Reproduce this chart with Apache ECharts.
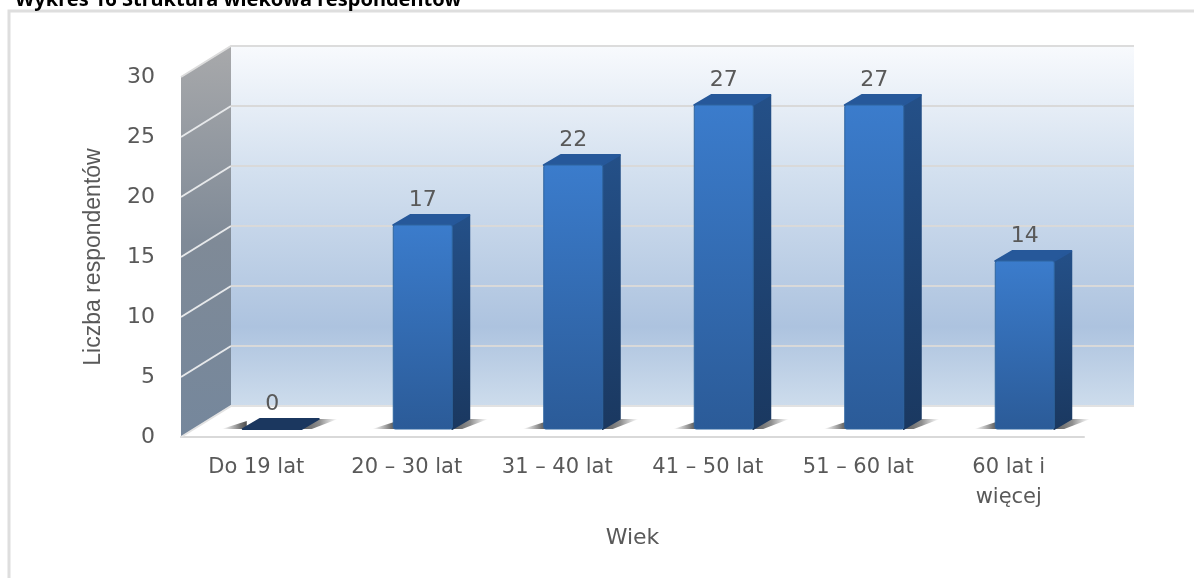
<!DOCTYPE html>
<html>
<head>
<meta charset="utf-8">
<title>Struktura wiekowa respondentów</title>
<script src="https://cdn.jsdelivr.net/npm/echarts@6/dist/echarts.min.js"></script>
<style>
  html, body { margin: 0; padding: 0; background: #fff; }
  #chart { width: 1194px; height: 578px; }
</style>
</head>
<body>
<div id="chart"></div>
<script>
const categories = ['Do 19 lat', '20 – 30 lat', '31 – 40 lat', '41 – 50 lat', '51 – 60 lat', '60 lat i\nwięcej'];
const respondents = [0, 17, 22, 27, 27, 14];
const yTicks = [5, 10, 15, 20, 25];
const yMax = 30;

// depth of the fake 3D box
const wallDx = 50, wallDy = -31;
const barDx = 16, barDy = -8;
const sideDx = 17, sideDy = -10;
const barWidth = 59;
const textColor = '#595959';

function vert(stops) {
  return new echarts.graphic.LinearGradient(0, 0, 0, 1, stops);
}
function horiz(stops) {
  return new echarts.graphic.LinearGradient(0, 0, 1, 0, stops);
}
function poly(points, fill, rounded) {
  var style = { fill: fill };
  if (rounded) {
    style.stroke = fill;
    style.lineWidth = 2;
    style.lineJoin = 'round';
  }
  return { type: 'polygon', shape: { points: points }, style: style };
}

var chart = echarts.init(document.getElementById('chart'));

function renderWalls(params, api) {
  var step = api.size([1, 0])[0];
  var bl = api.coord([0, 0]);
  var top = api.coord([0, yMax]);
  var x0 = bl[0] - step / 2;
  var x1 = x0 + step * categories.length;
  var y0 = bl[1], y1 = top[1];
  return {
    type: 'group',
    children: [
      poly([[x0, y1], [x0 + wallDx, y1 + wallDy], [x0 + wallDx, y0 + wallDy], [x0, y0]],
        vert([{ offset: 0, color: '#a8a9ab' }, { offset: 0.5, color: '#7f8a97' }, { offset: 1, color: '#75879c' }])),
      poly([[x0 + wallDx, y1 + wallDy], [x1 + wallDx, y1 + wallDy], [x1 + wallDx, y0 + wallDy], [x0 + wallDx, y0 + wallDy]],
        vert([
          { offset: 0, color: '#f8fafd' },
          { offset: 0.35, color: '#d3e0ef' },
          { offset: 0.78, color: '#adc3df' },
          { offset: 1, color: '#cddcec' }
        ])),
      {
        type: 'polyline',
        shape: { points: [[x0, y1], [x0 + wallDx, y1 + wallDy], [x1 + wallDx, y1 + wallDy]] },
        style: { stroke: '#dcdcdc', lineWidth: 2, fill: 'none' }
      },
      {
        type: 'polyline',
        shape: { points: [[x0, y0], [x0 + wallDx, y0 + wallDy], [x1 + wallDx, y0 + wallDy]] },
        style: { stroke: '#e2e2e2', lineWidth: 2, fill: 'none' }
      }
    ]
  };
}

function renderGridLine(params, api) {
  var step = api.size([1, 0])[0];
  var p = api.coord([0, api.value(0)]);
  var x0 = p[0] - step / 2;
  var x1 = x0 + step * categories.length;
  var y = p[1];
  return {
    type: 'group',
    children: [
      { type: 'line', shape: { x1: x0, y1: y, x2: x0 + wallDx, y2: y + wallDy }, style: { stroke: '#e6e8ea', lineWidth: 2 } },
      { type: 'line', shape: { x1: x0 + wallDx, y1: y + wallDy, x2: x1 + wallDx, y2: y + wallDy }, style: { stroke: '#d9d9d9', lineWidth: 2 } }
    ]
  };
}

function renderBar(params, api) {
  var value = api.value(1);
  var base = api.coord([api.value(0), 0]);
  var head = api.coord([api.value(0), value]);
  var cx = base[0] + barDx;
  var l = cx - barWidth / 2, r = cx + barWidth / 2;
  var yb = base[1] + barDy, yt = head[1] + barDy;
  var children = [
    // floor shadow either side of the base
    poly([[l - 21, yb], [l + 4, yb], [l + 4, yb - 8]],
      horiz([{ offset: 0, color: 'rgba(130,130,130,0)' }, { offset: 0.75, color: 'rgba(90,90,90,0.85)' }, { offset: 1, color: 'rgba(80,80,80,1)' }])),
    poly([[r - 4, yb], [r + sideDx - 4, yb + sideDy], [r + 36, yb + sideDy], [r + 10, yb]],
      horiz([{ offset: 0, color: 'rgba(80,80,80,1)' }, { offset: 0.55, color: 'rgba(105,105,105,0.75)' }, { offset: 1, color: 'rgba(140,140,140,0)' }]))
  ];
  if (value > 0) {
    children.push(
      poly([[r, yt], [r + sideDx, yt + sideDy], [r + sideDx, yb + sideDy], [r, yb]],
        vert([{ offset: 0, color: '#245088' }, { offset: 1, color: '#1a3860' }]), true),
      poly([[l, yt], [l + sideDx, yt + sideDy], [r + sideDx, yt + sideDy], [r, yt]], '#26589a', true),
      {
        type: 'rect',
        shape: { x: l, y: yt, width: barWidth, height: yb - yt, r: 2 },
        style: {
          fill: vert([{ offset: 0, color: '#3b7ccc' }, { offset: 1, color: '#2b5b98' }]),
          stroke: '#2f659f',
          lineWidth: 1
        }
      }
    );
  } else {
    children.push(poly([[l, yt], [l + sideDx, yt + sideDy], [r + sideDx, yt + sideDy], [r, yt]], '#1b375f', true));
  }
  children.push({
    type: 'text',
    style: {
      x: cx,
      y: yt - 25,
      text: String(value),
      fill: textColor,
      font: '22px "DejaVu Sans"',
      textAlign: 'center',
      textVerticalAlign: 'middle'
    }
  });
  return { type: 'group', children: children };
}

var option = {
  animation: false,
  backgroundColor: '#fff',
  title: {
    text: 'Wykres 16 Struktura wiekowa respondentów',
    left: 10,
    top: -15,
    textStyle: { fontFamily: 'Noto Sans', fontWeight: 'bold', fontSize: 20, color: '#000' }
  },
  graphic: [{
    type: 'polyline',
    silent: true,
    z: -10,
    shape: { points: [[1196, 11], [9, 11], [9, 580]] },
    style: { stroke: '#dedede', lineWidth: 3, fill: 'none' }
  }],
  grid: { left: 181, top: 77, width: 903, height: 360 },
  xAxis: {
    type: 'category',
    data: categories,
    name: 'Wiek',
    nameLocation: 'middle',
    nameGap: 90,
    nameTextStyle: { fontFamily: 'DejaVu Sans', fontSize: 22, color: textColor },
    axisLine: { lineStyle: { color: '#d9d9d9', width: 2 } },
    axisTick: { show: false },
    axisLabel: {
      interval: 0,
      margin: 16,
      fontFamily: 'DejaVu Sans',
      fontSize: 21,
      lineHeight: 30,
      color: textColor
    }
  },
  yAxis: {
    type: 'value',
    min: 0,
    max: yMax,
    interval: 5,
    name: 'Liczba respondentów',
    nameLocation: 'middle',
    nameGap: 76,
    nameTextStyle: { fontFamily: 'Liberation Sans', fontSize: 23, color: textColor },
    axisLine: { show: false },
    axisTick: { show: false },
    splitLine: { show: false },
    axisLabel: { margin: 26, fontFamily: 'DejaVu Sans', fontSize: 22, color: textColor }
  },
  series: [
    { type: 'custom', name: 'walls', silent: true, z: 1, data: [[0]], renderItem: renderWalls },
    { type: 'custom', name: 'grid', silent: true, z: 2, data: yTicks.map(function (t) { return [t]; }), encode: { y: 0 }, renderItem: renderGridLine },
    {
      type: 'custom',
      name: 'Liczba respondentów',
      z: 3,
      data: respondents.map(function (v, i) { return [i, v]; }),
      encode: { x: 0, y: 1 },
      renderItem: renderBar
    }
  ]
};

chart.setOption(option);
</script>
</body>
</html>
